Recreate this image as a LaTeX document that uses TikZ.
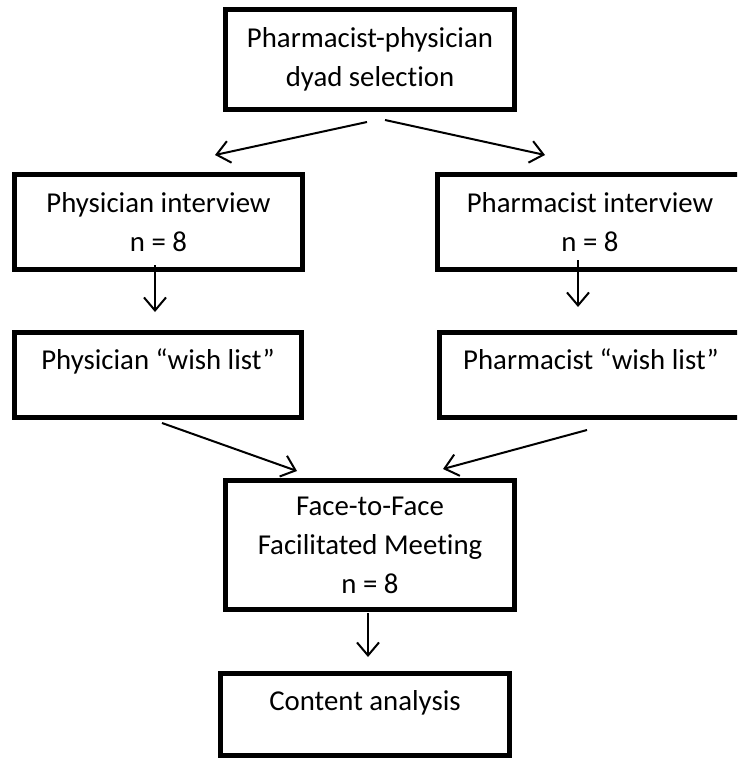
\documentclass[tikz,border=0pt]{standalone}
\usepackage{fontspec}
\setmainfont[Ligatures={TeX,NoCommon}]{Carlito}
\usetikzlibrary{arrows.meta,calc}

\begin{document}
\begin{tikzpicture}[x=1pt,y=-1pt,>={Straight Barb[length=13pt,width=22pt]},
  caja/.style={draw,line width=5pt,align=center,
    font={\fontsize{28.8pt}{39pt}\selectfont}},
  cajaalta/.style={draw,line width=5pt,text height=20pt,text depth=32pt,
    font={\fontsize{28.8pt}{39pt}\selectfont}},
  flecha/.style={->,line width=2pt}]
  \clip (0,0) rectangle (737,760);
  \node[caja,minimum width=289pt,minimum height=100pt] (sel) at (370,59.5)
    {Pharmacist-physician\\dyad selection};
  \node[caja,minimum width=288pt,minimum height=95pt] (physint) at (158.5,222)
    {Physician interview\\n = 8};
  \node[caja,minimum width=305pt,minimum height=95pt] (pharmint) at (590,222)
    {Pharmacist interview\\n = 8};
  \node[cajaalta,minimum width=287pt,minimum height=85pt] (physwish) at (158,375)
    {Physician “wish list”};
  \node[cajaalta,minimum width=303pt,minimum height=85pt] (pharmwish) at (591,375)
    {Pharmacist “wish list”};
  \node[caja,minimum width=289pt,minimum height=129pt] (meet) at (370,545)
    {Face-to-Face\\Facilitated Meeting\\n = 8};
  \node[cajaalta,text depth=29pt,minimum width=289pt,minimum height=82pt] (content) at (365,714.5)
    {Content analysis};
  \draw[flecha] ($(sel.south)+(-3,10)$) -- ($(physint.north)+(56.5,-17)$);
  \draw[flecha] ($(sel.south)+(15,8)$) -- ($(pharmint.north)+(-45,-17)$);
  \draw[flecha] ($(physint.south)+(-3.5,-7)$) -- ($(physwish.north)+(-3,-18)$);
  \draw[flecha] ($(pharmint.south)+(-12,-12)$) -- ($(pharmwish.north)+(-13,-23)$);
  \draw[flecha] ($(physwish.south)+(4,3)$) -- ($(meet.north)+(-73,-7)$);
  \draw[flecha] ($(pharmwish.south)+(-4,10)$) -- ($(meet.north)+(73,-9)$);
  \draw[flecha] ($(meet.south)+(-2,1)$) -- ($(content.north)+(3,-14)$);
\end{tikzpicture}
\end{document}
